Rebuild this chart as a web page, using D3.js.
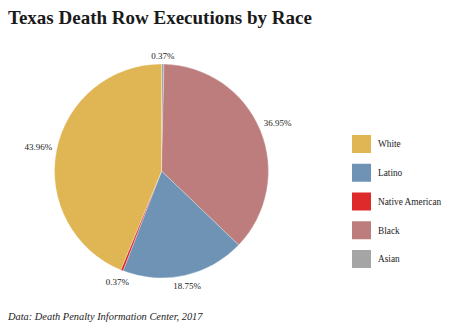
<!DOCTYPE html>
<html>
<head>
<meta charset="utf-8">
<script src="https://cdn.jsdelivr.net/npm/d3@7"></script>
<style>
  html, body { margin: 0; padding: 0; background: #fff; }
  svg { display: block; }
  text { font-family: "Liberation Serif", "DejaVu Serif", serif; fill: #222; }
</style>
</head>
<body>
<svg id="chart" width="474" height="328"></svg>
<script>
// Data (pie order: clockwise from 12 o'clock)
const categories = ["Asian", "Black", "Latino", "Native American", "White"];
const values = [0.37, 36.95, 18.75, 0.37, 43.96];
const labels = ["0.37%", "36.95%", "18.75%", "0.37%", "43.96%"];
const colors = ["#a5a5a5", "#bd7d7d", "#6e93b4", "#df2a2c", "#e0b553"];
// Legend order
const legendOrder = ["White", "Latino", "Native American", "Black", "Asian"];

const svg = d3.select("#chart");

svg.append("text")
  .attr("x", 8).attr("y", 24)
  .attr("font-size", 19).attr("font-weight", "bold")
  .style("fill", "#1a1a1a")
  .text("Texas Death Row Executions by Race");

svg.append("text")
  .attr("x", 8).attr("y", 320)
  .attr("font-size", 10.4).attr("font-style", "italic")
  .style("fill", "#222")
  .text("Data: Death Penalty Information Center, 2017");

const cx = 161.5, cy = 171, r = 107;
const data = categories.map((c, i) => ({ cat: c, value: values[i], label: labels[i], color: colors[i] }));
const pie = d3.pie().value(d => d.value).sort(null);
const arcs = pie(data);
const arc = d3.arc().innerRadius(0).outerRadius(r);

const g = svg.append("g").attr("transform", `translate(${cx},${cy})`);
g.selectAll("path").data(arcs).join("path")
  .attr("d", arc)
  .attr("fill", d => d.data.color)
  .attr("stroke", "#fff").attr("stroke-width", 0.3);

const lbl = g.selectAll("text.lbl").data(arcs).join("text")
  .attr("class", "lbl")
  .attr("text-anchor", "middle")
  .attr("dy", "0.35em")
  .attr("font-size", 9)
  .text(d => d.data.label);

// place each label so its box sits a small gap outside the pie edge along the mid-angle
const gap = 4;
lbl.attr("transform", function(d) {
  const bb = this.getBBox();
  const a = (d.startAngle + d.endAngle) / 2;
  const s = Math.sin(a), c = -Math.cos(a);
  const R = r + gap + (bb.width / 2) * Math.abs(s) + (bb.height / 2 - 1) * Math.abs(c);
  return `translate(${R * s},${R * c})`;
});

const colorOf = d3.scaleOrdinal().domain(categories).range(colors);
const ly = d3.scalePoint().domain(legendOrder).range([144, 259]);
const items = svg.append("g").selectAll("g").data(legendOrder).join("g")
  .attr("transform", d => `translate(352,${ly(d)})`);
items.append("rect").attr("x", 0).attr("y", -9).attr("width", 19).attr("height", 18)
  .attr("fill", d => colorOf(d));
items.append("text").attr("x", 26).attr("y", 0).attr("dy", "0.35em")
  .attr("font-size", 9.3).text(d => d);
</script>
</body>
</html>
